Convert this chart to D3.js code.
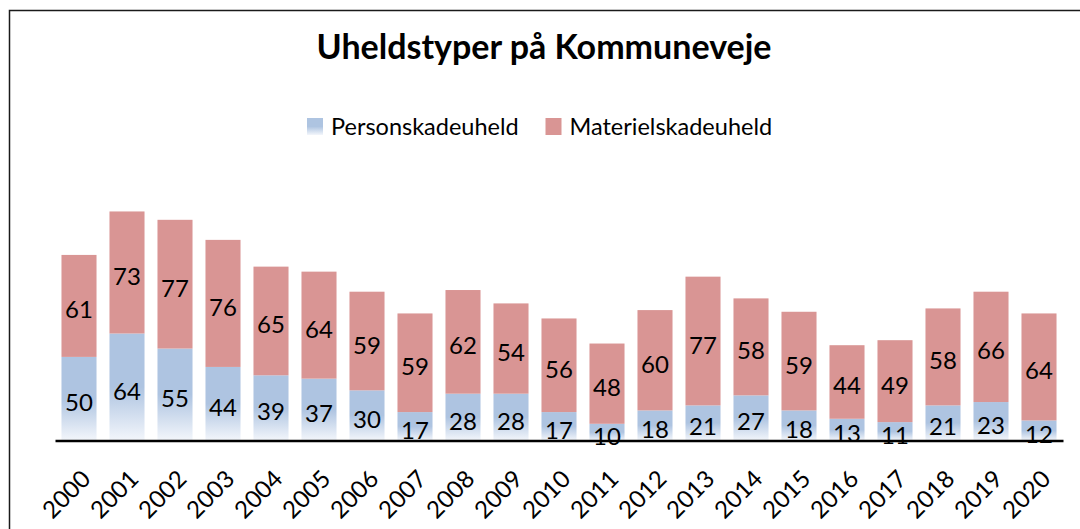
<!DOCTYPE html>
<html>
<head>
<meta charset="utf-8">
<script src="https://cdn.jsdelivr.net/npm/d3@7"></script>
<style>
  html, body { margin: 0; padding: 0; background: #fff; }
  svg { display: block; font-family: Lato, "Open Sans", sans-serif; }
</style>
</head>
<body>
<div id="chart"></div>
<script>
// Uheldstyper på Kommuneveje — gestablet søjlediagram
const years = ["2000","2001","2002","2003","2004","2005","2006","2007","2008","2009","2010",
               "2011","2012","2013","2014","2015","2016","2017","2018","2019","2020"];
const personskade   = [50, 64, 55, 44, 39, 37, 30, 17, 28, 28, 17, 10, 18, 21, 27, 18, 13, 11, 21, 23, 12];
const materielskade = [61, 73, 77, 76, 65, 64, 59, 59, 62, 54, 56, 48, 60, 77, 58, 59, 44, 49, 58, 66, 64];
const seriesNames = ["Personskadeuheld", "Materielskadeuheld"];

const W = 1080, H = 529;
const M = { top: 173, right: 17, bottom: 88.5, left: 55 };

const cPerson = "#aec4e1";
const cMateriel = "#d99594";

const svg = d3.select("#chart").append("svg")
  .attr("width", W)
  .attr("height", H);

// gradient for personskade (fades to white at bottom)
const defs = svg.append("defs");
const grad = defs.append("linearGradient")
  .attr("id", "gPerson")
  .attr("x1", 0).attr("y1", 0).attr("x2", 0).attr("y2", 1);
grad.append("stop").attr("offset", "0").attr("stop-color", cPerson);
grad.append("stop").attr("offset", "0.5").attr("stop-color", cPerson);
grad.append("stop").attr("offset", "1").attr("stop-color", "#f3f6fb");

// outer frame (only top + left visible in the crop)
svg.append("rect")
  .attr("x", 9.5).attr("y", 10.5)
  .attr("width", W + 20).attr("height", H + 20)
  .attr("fill", "none")
  .attr("stroke", "#1a1a1a")
  .attr("stroke-width", 1.5);

// Skalaer
const x = d3.scaleBand()
  .domain(years)
  .range([M.left, W - M.right])
  .paddingInner(0.27)
  .paddingOuter(0.135);

const y = d3.scaleLinear()
  .domain([0, 160])
  .range([H - M.bottom, M.top]);

// Søjler
const stacked = years.map((yr, i) => ({ yr, p: personskade[i], m: materielskade[i] }));

const g = svg.append("g");

g.selectAll("rect.person")
  .data(stacked)
  .join("rect")
  .attr("class", "person")
  .attr("x", d => x(d.yr))
  .attr("y", d => y(d.p))
  .attr("width", x.bandwidth())
  .attr("height", d => y(0) - y(d.p))
  .attr("fill", "url(#gPerson)");

g.selectAll("rect.materiel")
  .data(stacked)
  .join("rect")
  .attr("class", "materiel")
  .attr("x", d => x(d.yr))
  .attr("y", d => y(d.p + d.m))
  .attr("width", x.bandwidth())
  .attr("height", d => y(d.p) - y(d.p + d.m))
  .attr("fill", cMateriel);

// Værdi-labels
const labelStyle = sel => sel
  .attr("text-anchor", "middle")
  .style("font-size", "24px")
  .style("fill", "#000");

g.selectAll("text.lp")
  .data(stacked)
  .join("text")
  .attr("class", "lp")
  .attr("x", d => x(d.yr) + x.bandwidth() / 2)
  .attr("y", d => (y(0) + y(d.p)) / 2 + 12.5)
  .call(labelStyle)
  .text(d => d.p);

g.selectAll("text.lm")
  .data(stacked)
  .join("text")
  .attr("class", "lm")
  .attr("x", d => x(d.yr) + x.bandwidth() / 2)
  .attr("y", d => (y(d.p) + y(d.p + d.m)) / 2 + 12.5)
  .call(labelStyle)
  .text(d => d.m);

// X-akse
const xAxis = svg.append("g")
  .attr("transform", `translate(0,${y(0)})`)
  .call(d3.axisBottom(x).tickSize(0).tickSizeOuter(0));

xAxis.select(".domain")
  .attr("stroke", "#000")
  .attr("stroke-width", 2.5);

xAxis.selectAll(".tick text")
  .attr("y", 0)
  .attr("dy", 0)
  .attr("text-anchor", "end")
  .attr("transform", "translate(13,40) rotate(-45)")
  .style("font-size", "24px")
  .style("font-family", "Lato, sans-serif")
  .style("fill", "#000");

// Titel
svg.append("text")
  .attr("x", 544)
  .attr("y", 59)
  .attr("text-anchor", "middle")
  .style("font-size", "34px")
  .style("font-weight", "700")
  .style("fill", "#000")
  .text("Uheldstyper på Kommuneveje");

// Legende
const legend = svg.append("g").attr("transform", "translate(307,118)");
const legItems = [
  { name: seriesNames[0], fill: "url(#gPerson)", x: 0 },
  { name: seriesNames[1], fill: cMateriel, x: 238.5 }
];
const li = legend.selectAll("g")
  .data(legItems)
  .join("g")
  .attr("transform", d => `translate(${d.x},0)`);
li.append("rect")
  .attr("width", 16).attr("height", 17)
  .attr("fill", d => d.fill);
li.append("text")
  .attr("x", 24)
  .attr("y", 17)
  .style("font-size", "23.5px")
  .style("fill", "#000")
  .text(d => d.name);
</script>
</body>
</html>
